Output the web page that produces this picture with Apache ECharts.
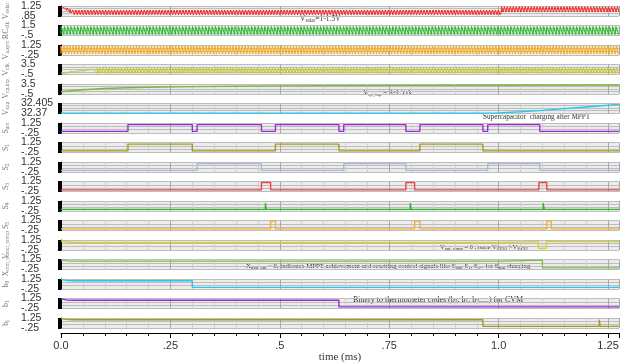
<!DOCTYPE html>
<html><head><meta charset="utf-8">
<script src="https://cdn.jsdelivr.net/npm/echarts@6/dist/echarts.min.js"></script>
<style>html,body{margin:0;padding:0;background:#fff}#c{width:620px;height:364px}</style>
</head><body><div id="c"></div>
<script>
// ---------------- data ----------------
const X_MAX = 1.275;
const xTickLabels = ['0.0', '.25', '.5', '.75', '1.0', '1.25'];
const panelNames = [['V','solar'],['RC','clk'],['V','a,sym'],['V','clk'],['V','cp,inp'],['V','sup'],
  ['S','am'],['S','1'],['S','2'],['S','3'],['S','4'],['S','5'],['V','out_comp'],['X','mm_out'],['b','0'],['b','1'],['b','j']];
const yMins = [0.85, -0.5, -0.25, -0.5, -0.5, 32.37, -0.25, -0.25, -0.25, -0.25, -0.25, -0.25, -0.25, -0.25, -0.25, -0.25, -0.25];
const yMaxs = [1.25, 1.5, 1.25, 3.5, 3.5, 32.405, 1.25, 1.25, 1.25, 1.25, 1.25, 1.25, 1.25, 1.25, 1.25, 1.25, 1.25];

// oscillating signals: period (ms) and level segments
const solarPeriod = 0.0068;
const solarSegT = [0, 0.008, 0.016, 0.024, 1.0];
const solarHi   = [1.22, 1.17, 1.12, 1.09, 1.22];
const solarLo   = [1.18, 1.08, 0.98, 0.90, 1.01];

const rcPeriod = 0.0075;
const rcSegT = [0];
const rcHi = [1.3];
const rcLo = [-0.3];

const asymPeriod = 0.0069;
const asymSegT = [0];
const asymHi = [1.1];
const asymLo = [-0.1];

const clkPeriod = 0.0069;
const clkSegT = [0, 0.02, 0.04, 0.06, 0.08];
const clkHi   = [0.5, 1.0, 1.4, 1.8, 2.1];
const clkLo   = [0.1, 0.6, 1.0, 1.4, 0.0];

// slowly varying signals
const cpT = [0, 0.05, 0.1, 0.15, 0.2, 0.3, 0.4, 0.5, 0.6, 0.8, 1.0, 1.275];
const cpV = [0.4, 1.2, 1.7, 2.0, 2.2, 2.45, 2.6, 2.75, 2.85, 2.95, 3.0, 3.1];

const supT = [0, 0.99, 1.05, 1.10, 1.15, 1.20, 1.275];
const supV = [32.3712, 32.3712, 32.376, 32.381, 32.387, 32.393, 32.402];

// digital signals (repeated times = vertical edges)
const samT = [0,0.153,0.153,0.300,0.300,0.311,0.311,0.458,0.458,0.490,0.490,0.635,0.635,0.646,0.646,0.788,0.788,0.820,0.820,0.964,0.964,0.975,0.975,1.094,1.094,1.275];
const samV = [0,0,1,1,0,0,1,1,0,0,1,1,0,0,1,1,0,0,1,1,0,0,1,1,0,0];
const s1T = [0,0.153,0.153,0.300,0.300,0.490,0.490,0.635,0.635,0.820,0.820,0.964,0.964,1.275];
const s1V = [0,0,1,1,0,0,1,1,0,0,1,1,0,0];
const s2T = [0,0.311,0.311,0.458,0.458,0.646,0.646,0.788,0.788,0.975,0.975,1.094,1.094,1.275];
const s2V = [0,0,1,1,0,0,1,1,0,0,1,1,0,0];
const s3T = [0,0.458,0.458,0.464,0.466,0.470,0.479,0.479,0.788,0.788,0.794,0.796,0.800,0.808,0.808,1.092,1.092,1.098,1.100,1.104,1.110,1.110,1.275];
const s3V = [0,0,1.1,1.1,0.85,1.1,1.1,0,0,1.1,1.1,0.85,1.1,1.1,0,0,1.1,1.1,0.85,1.1,1.1,0,0];
const s4T = [0,0.467,0.467,0.469,0.469,0.798,0.798,0.800,0.800,1.102,1.102,1.104,1.104,1.275];
const s4V = [0,0,0.9,0.9,0,0,0.9,0.9,0,0,0.9,0.9,0,0];
const s5T = [0,0.479,0.479,0.490,0.490,0.808,0.808,0.820,0.820,1.110,1.110,1.120,1.120,1.275];
const s5V = [0,0,1.15,1.15,0,0,1.15,1.15,0,0,1.15,1.15,0,0];
const voutT = [0,0.015,0.03,0.457,0.457,0.459,0.459,0.787,0.787,0.789,0.789,1.01,1.01,1.091,1.091,1.109,1.109,1.275];
const voutV = [1.1,0.95,0.88,0.88,0.6,0.6,0.88,0.88,0.65,0.65,0.88,0.88,1.0,1.0,0.0,0.0,1.0,1.0];
const xmmT = [0,0.015,0.03,1.01,1.01,1.10,1.10,1.275];
const xmmV = [1.2,1.05,1.0,1.0,1.15,1.15,0.0,0.0];
const b0T = [0,0.015,0.03,0.300,0.300,1.275];
const b0V = [1.2,1.0,0.98,0.98,0,0];
const b1T = [0,0.015,0.03,0.635,0.635,1.228,1.229,1.230,1.275];
const b1V = [1.2,1.0,0.98,0.98,0,0,0.3,0,0];
const bjT = [0,0.015,0.03,0.964,0.964,1.230,1.230,1.232,1.232,1.275];
const bjV = [1.15,1.0,0.98,0.98,0,0,1.0,1.0,0,0];

// ---------------- build ----------------
function pairs(ts, vs){ return ts.map((t,i)=>[t, vs[i]]); }
const squareShape = [[0,0],[0,1],[0.5,1],[0.5,0]];
const sawShape = [[0,0],[0.05,1],[0.35,1],[0.85,0]];
function osc(P, segT, hi, lo, shape){
  const pts = [];
  for (let n = 0; n * P < X_MAX; n++){
    const t = n * P;
    let k = 0; while (k + 1 < segT.length && segT[k+1] <= t) k++;
    for (const [f, h] of shape){ const x = t + f * P; if (x <= X_MAX) pts.push([x, h ? hi[k] : lo[k]]); }
  }
  return pts;
}

const seriesData = [
  osc(solarPeriod, solarSegT, solarHi, solarLo, squareShape),
  osc(rcPeriod, rcSegT, rcHi, rcLo, sawShape),
  osc(asymPeriod, asymSegT, asymHi, asymLo, squareShape),
  osc(clkPeriod, clkSegT, clkHi, clkLo, squareShape),
  pairs(cpT, cpV), pairs(supT, supV),
  pairs(samT, samV), pairs(s1T, s1V), pairs(s2T, s2V), pairs(s3T, s3V), pairs(s4T, s4V), pairs(s5T, s5V),
  pairs(voutT, voutV), pairs(xmmT, xmmV), pairs(b0T, b0V), pairs(b1T, b1V), pairs(bjT, bjV)
];
const colors = ['#ff1e1e','#22c022','#ffaa10','#c8c820','#7cb83a','#22c8ee','#9b2bd8','#a39b1a','#a8b8e0','#f04444','#2ab52a','#f5b030','#d4d428','#7cc040','#22c8ee','#9b2bd8','#a39b1a'];
const yIntervals = [0.1, 0.5, 0.5, 1, 1, 0.01, 0.5,0.5,0.5,0.5,0.5,0.5,0.5,0.5,0.5,0.5,0.5];

function fmtNum(v){ return String(+v.toFixed(4)).replace(/^(-?)0\./, '$1.'); }

const N = panelNames.length;
const grids = [], xAxes = [], yAxes = [], series = [];
for (let i = 0; i < N; i++){
  grids.push({left: 61, right: 1, top: 6 + i * 19.5, height: 10, show: true, backgroundColor: '#ececec', borderWidth: 0,
    containLabel: false, outerBoundsMode: 'none'});
  const last = i === N - 1;
  xAxes.push({
    gridIndex: i, type: 'value', min: 0, max: X_MAX, interval: 0.25,
    offset: last ? 5 : 0,
    axisLine: {show: last, onZero: false, lineStyle: {color: '#000', width: 1}},
    axisTick: {show: last, length: 5, lineStyle: {color: '#000'}},
    minorTick: {show: last, splitNumber: 5, length: 3, lineStyle: {color: '#000'}},
    axisLabel: {show: last, margin: 7, fontSize: 11, color: '#333', fontFamily: 'Liberation Sans',
      formatter: v => { const k = Math.round(v / 0.25); return Math.abs(k * 0.25 - v) < 1e-6 && k < xTickLabels.length ? xTickLabels[k] : ''; }},
    splitLine: {show: true, lineStyle: {color: '#a9a9a9', width: 1}},
    minorSplitLine: {show: true, lineStyle: {color: '#cfcfcf', width: 1}},
    name: last ? 'time (ms)' : '', nameLocation: 'middle', nameGap: 18,
    nameTextStyle: {fontFamily: 'Liberation Serif', fontSize: 11, color: '#333'}
  });
  const mn = yMins[i], mx = yMaxs[i];
  yAxes.push({
    gridIndex: i, type: 'value', min: mn, max: mx, interval: yIntervals[i], offset: 8,
    axisLine: {show: true, lineStyle: {color: '#000', width: 1}},
    axisTick: {show: true, length: 3, lineStyle: {color: '#000'}},
    minorTick: {show: true, splitNumber: 4, length: 3, lineStyle: {color: '#000'}},
    axisLabel: {show: true, showMinLabel: true, showMaxLabel: true, margin: 32, align: 'left',
      fontSize: 10.5, color: '#333', fontFamily: 'Liberation Sans',
      formatter: v => (Math.abs(v - mn) < 1e-9 || Math.abs(v - mx) < 1e-9) ? fmtNum(v) : ''},
    splitLine: {show: true, lineStyle: {color: '#bdbdbd', width: 1}},
    name: '{m|' + panelNames[i][0] + '}{s|' + panelNames[i][1] + '}',
    nameLocation: 'middle', nameRotate: 90, nameGap: 37,
    nameTextStyle: {color: '#777', rich: {
      m: {fontFamily: 'Liberation Serif', fontSize: 8, color: '#777'},
      s: {fontFamily: 'Liberation Serif', fontSize: 5.5, color: '#777', padding: [3, 0, 0, 0]}}}
  });
  series.push({
    type: 'line', xAxisIndex: i, yAxisIndex: i, data: seriesData[i], showSymbol: false,
    lineStyle: {color: colors[i], width: i < 4 ? 1 : 1.4}, itemStyle: {color: colors[i]},
    animation: false, clip: true, silent: true
  });
}

function mkRich(fs){ return {
  n: {fontFamily: 'Liberation Serif', fontSize: fs, fill: '#333'},
  s: {fontFamily: 'Liberation Serif', fontSize: fs * 0.68, fill: '#333', padding: [3, 0, 0, 0]}
}; }
function ann(x, y, text, fs){ return {type: 'text', x: x, y: y, silent: true, style: {text: text, rich: mkRich(fs), verticalAlign: 'middle', align: 'left'}}; }
const graphic = [
  ann(300, 19, '{n|V}{s|solar}{n|=1-1.5V}', 7.5),
  ann(363, 93, '{n|V}{s|cp_inp}{n| = 3-3.55V}', 7.2),
  ann(483, 117, '{n|Supercapacitor  charging after MPPT}', 7.2),
  ann(440, 247, '{n|V}{s|out_comp}{n| = 0 , once V}{s|SYS1}{n| >V}{s|SYS2}', 6.6),
  ann(246, 266.5, '{n|X}{s|mm_out}{n| = 0, indicates MPPT achievement and resetting control signals like S}{s|am}{n|, S}{s|1}{n|, S}{s|2}{n|.. for S}{s|sup}{n| charging}', 6.8),
  ann(353, 300, '{n|Binary to thermometer codes (b}{s|0}{n|, b}{s|1}{n|, b}{s|2}{n|,....) for CVM}', 8)
];

const chart = echarts.init(document.getElementById('c'), null, {renderer: 'canvas'});
chart.setOption({backgroundColor: '#fff', animation: false, grid: grids, xAxis: xAxes, yAxis: yAxes, series: series, graphic: graphic});
</script></body></html>
